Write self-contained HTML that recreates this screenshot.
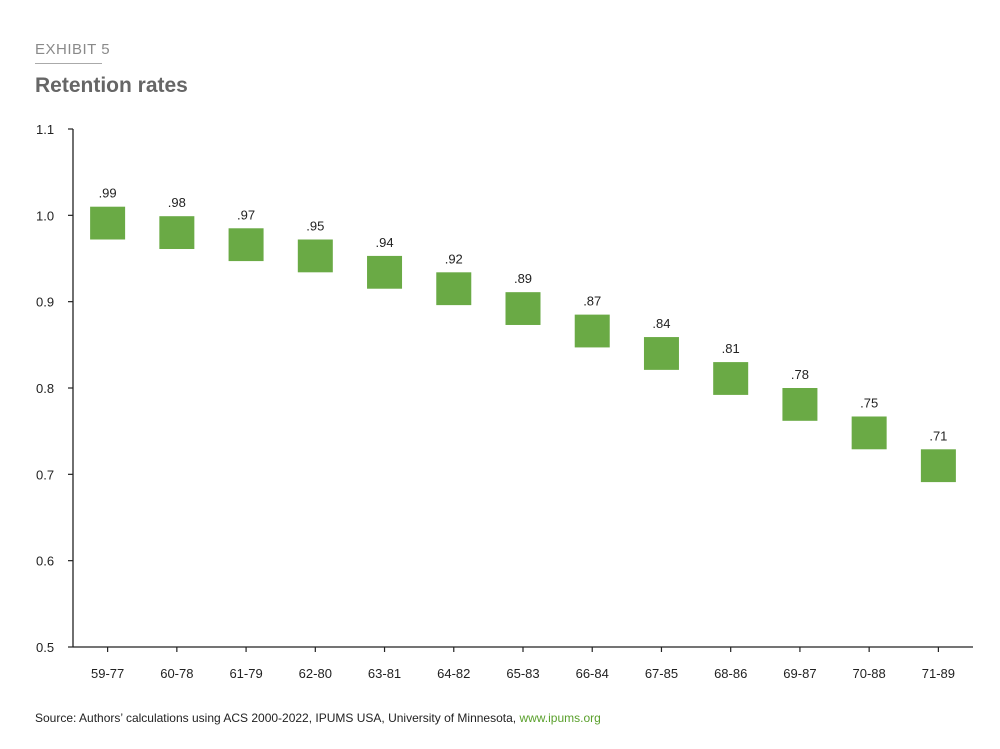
<!DOCTYPE html>
<html><head><meta charset="utf-8"><style>
body{margin:0;background:#fff;font-family:"Liberation Sans",sans-serif;}
#wrap{position:relative;width:1000px;height:749px;overflow:hidden}
</style></head><body>
<div id="wrap">
<div style="position:absolute;left:35px;top:41px;font-size:15px;color:#8a8a8a;letter-spacing:0.5px">EXHIBIT 5</div>
<div style="position:absolute;left:35px;top:63px;width:67px;height:1px;background:#aaa"></div>
<div style="position:absolute;left:35px;top:74px;font-size:21px;font-weight:bold;color:#666">Retention rates</div>
<svg id="chart" width="1000" height="749" style="position:absolute;left:0;top:0"></svg>
<div style="position:absolute;left:35px;top:711px;font-size:12px;color:#222">Source: Authors’ calculations using ACS 2000-2022, IPUMS USA, University of Minnesota, <span style="color:#5aa02c">www.ipums.org</span></div>
</div>
<script>
const categories=["59-77","60-78","61-79","62-80","63-81","64-82","65-83","66-84","67-85","68-86","69-87","70-88","71-89"];
const values=[0.991,0.980,0.966,0.953,0.934,0.915,0.892,0.866,0.840,0.811,0.781,0.748,0.710];
const labels=[".99",".98",".97",".95",".94",".92",".89",".87",".84",".81",".78",".75",".71"];
const yTicks=[0.5,0.6,0.7,0.8,0.9,1.0,1.1];
const yTickLabels=["0.5","0.6","0.7","0.8","0.9","1.0","1.1"];
const NS="http://www.w3.org/2000/svg";
const svg=document.getElementById('chart');
const x0=73,x1=973,yBase=647,yTop=129;
const y=v=>yBase-(v-0.5)/(0.6)*(yBase-yTop);
const bw=(x1-x0)/categories.length;
const xc=i=>x0+bw*(i+0.5);
function mk(t,a){const e=document.createElementNS(NS,t);for(const k in a)e.setAttribute(k,a[k]);svg.appendChild(e);return e;}
let e=mk('line',{x1:x0,y1:yTop,x2:x0,y2:yBase,stroke:'#222','stroke-width':1.3});


e=mk('line',{x1:x0,y1:yBase,x2:x1,y2:yBase,stroke:'#222','stroke-width':1.3});


yTicks.forEach((v,i)=>{
  e=mk('line',{x1:x0-5,y1:y(v),x2:x0,y2:y(v),stroke:'#222','stroke-width':1.2});
  
  
  e=mk('text',{x:36,y:y(v)+5,'font-size':13,fill:'#222','font-family':'Liberation Sans, sans-serif'});
  e.textContent=yTickLabels[i];
  
  
});
const h=y(0.5)-y(0.538);
categories.forEach((c,i)=>{
  e=mk('line',{x1:xc(i),y1:yBase,x2:xc(i),y2:yBase+5,stroke:'#222','stroke-width':1.2});
  
  
  e=mk('text',{x:xc(i),y:678,'text-anchor':'middle','font-size':13,fill:'#222','font-family':'Liberation Sans, sans-serif'});
  e.textContent=c;
  
  
  const cy=y(values[i]);
  e=mk('rect',{x:xc(i)-17.5,y:cy-h/2,width:35,height:h,fill:'#6aaa45'});
  
  
  e=mk('text',{x:xc(i),y:cy-h/2-9,'text-anchor':'middle','font-size':13,fill:'#222','font-family':'Liberation Sans, sans-serif'});
  e.textContent=labels[i];
  
  
});
</script>
</body></html>
